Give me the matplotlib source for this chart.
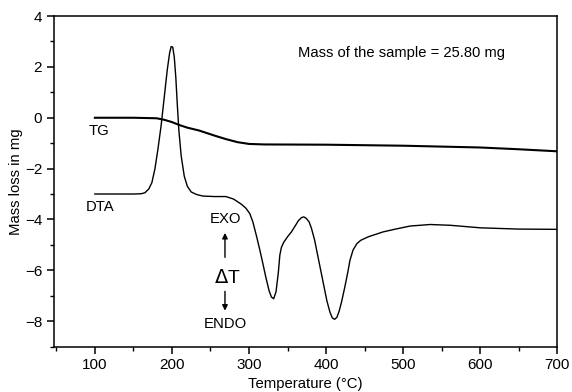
import matplotlib
matplotlib.use("Agg")
import matplotlib.pyplot as plt
from matplotlib.ticker import MultipleLocator

plt.rcParams['font.family'] = ['Liberation Sans', 'DejaVu Sans']

# TG curve (mass loss, mg)
tg_temp = [100, 150, 180, 190, 200, 210, 220, 235, 255, 270, 285, 300, 320,
           400, 500, 600, 650, 700]
tg_mass = [0.0, 0.0, -0.02, -0.08, -0.17, -0.29, -0.39, -0.5, -0.7, -0.84,
           -0.96, -1.03, -1.05, -1.06, -1.1, -1.17, -1.24, -1.32]

# DTA curve (arbitrary units on the same axis)
dta_temp = [100, 150, 160, 165, 170, 174, 178, 182, 186, 190, 194, 197, 199,
            201, 203, 205, 207, 209, 212, 216, 220, 225, 232, 240, 255, 270,
            280, 290, 296, 301, 305, 310, 314, 318, 322, 326, 329, 332, 335,
            338, 340, 342, 345, 350, 355, 360, 364, 368, 371, 374, 378, 381,
            385, 389, 393, 397, 401, 405, 408, 411, 414, 417, 420, 424, 428,
            431, 435, 440, 445, 455, 474, 490, 509, 535, 561, 600, 650, 700]
dta_val = [-3.0, -3.0, -2.99, -2.95, -2.8, -2.55, -2.0, -1.2, -0.3, 0.8, 1.9,
           2.55, 2.8, 2.78, 2.4, 1.6, 0.5, -0.5, -1.5, -2.3, -2.7, -2.92,
           -3.02, -3.08, -3.1, -3.1, -3.2, -3.4, -3.56, -3.77, -4.1, -4.69,
           -5.2, -5.74, -6.3, -6.8, -7.05, -7.12, -6.85, -6.1, -5.4, -5.1,
           -4.9, -4.68, -4.49, -4.25, -4.05, -3.93, -3.9, -3.95, -4.1, -4.35,
           -4.8, -5.4, -6.0, -6.6, -7.2, -7.65, -7.87, -7.93, -7.85, -7.6,
           -7.25, -6.7, -6.1, -5.6, -5.2, -4.95, -4.82, -4.68, -4.49, -4.38,
           -4.26, -4.2, -4.23, -4.33, -4.38, -4.39]

fig = plt.figure(figsize=(5.72, 3.92), dpi=100)
ax = fig.add_axes([0.0944, 0.116, 0.88, 0.843])

ax.plot(tg_temp, tg_mass, color='black', lw=1.5)
ax.plot(dta_temp, dta_val, color='black', lw=1.0)

ax.set_xlim(47, 700)
ax.set_ylim(-9, 4)
ax.xaxis.set_major_locator(MultipleLocator(100))
ax.xaxis.set_minor_locator(MultipleLocator(50))
ax.yaxis.set_major_locator(MultipleLocator(2))
ax.yaxis.set_minor_locator(MultipleLocator(1))
ax.tick_params(which='major', direction='out', length=5, width=1.1, labelsize=11)
ax.tick_params(which='minor', direction='out', length=3, width=1.0)
for s in ax.spines.values():
    s.set_linewidth(1.1)

ax.set_xlabel('Temperature (°C)', fontsize=10.7, labelpad=3)
ax.set_ylabel('Mass loss in mg', fontsize=10.7, labelpad=1)

ax.text(363, 2.54, 'Mass of the sample = 25.80 mg', fontsize=10.6, va='center')
ax.text(92, -0.53, 'TG', fontsize=10.7, va='center')
ax.text(88, -3.52, 'DTA', fontsize=10.7, va='center')
ax.text(270, -4.0, 'EXO', fontsize=10.7, ha='center', va='center')
ax.text(272, -6.29, r'$\Delta$T', fontsize=14, ha='center', va='center',
        math_fontfamily='dejavusans')
ax.text(269, -8.13, 'ENDO', fontsize=10.7, ha='center', va='center')
ax.annotate('', xy=(268.8, -4.42), xytext=(268.8, -5.6),
            arrowprops=dict(arrowstyle='-|>', color='black', lw=1.0,
                            mutation_scale=8))
ax.annotate('', xy=(268.8, -7.7), xytext=(268.8, -6.72),
            arrowprops=dict(arrowstyle='-|>', color='black', lw=1.0,
                            mutation_scale=8))

fig.savefig('out.png', dpi=100)
